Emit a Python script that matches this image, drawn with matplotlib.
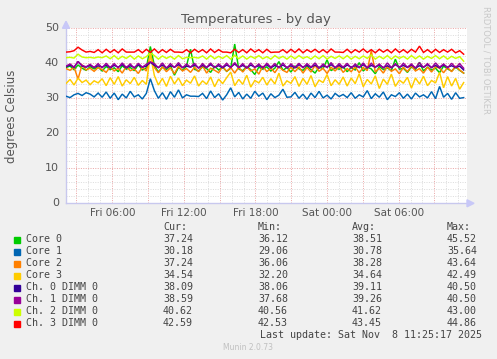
import numpy as np
import matplotlib
matplotlib.use("Agg")
import matplotlib.pyplot as plt
from matplotlib.ticker import MultipleLocator, FixedLocator

# ---------------- data ----------------
t_start, t_end = 2.12, 35.45          # hours since Fri 00:00
n_samples = 100

series_names = ["Core 0", "Core 1", "Core 2", "Core 3",
                "Ch. 0 DIMM 0", "Ch. 1 DIMM 0", "Ch. 2 DIMM 0", "Ch. 3 DIMM 0"]
series_colors = ["#00CC00", "#0066B3", "#FF8000", "#FFCC00",
                 "#330099", "#990099", "#CCFF00", "#FF0000"]

core0 = [38.8, 39.2, 38.2, 39.5, 38.6, 38.0, 39.0, 38.4, 38.9, 37.8,
         39.1, 38.2, 38.7, 37.6, 39.3, 38.3, 38.8, 37.9, 39.6, 38.1,
         38.7, 44.8, 39.4, 37.5, 38.9, 38.2, 39.3, 36.6, 38.8, 38.0,
         39.2, 44.0, 38.3, 37.8, 39.0, 38.5, 37.4, 39.2, 38.1, 38.9,
         37.7, 38.6, 45.5, 38.4, 37.9, 39.1, 38.2, 36.8, 38.9, 38.3,
         39.0, 37.8, 38.6, 40.5, 38.0, 38.8, 37.5, 39.2, 38.4, 38.0,
         39.1, 38.2, 37.2, 38.9, 38.5, 41.0, 37.9, 38.7, 38.3, 39.0,
         37.6, 38.8, 38.1, 40.2, 37.8, 38.9, 38.4, 37.0, 39.1, 38.2,
         38.7, 37.9, 41.2, 38.3, 38.6, 37.4, 39.0, 38.2, 40.3, 37.8,
         38.9, 38.1, 38.6, 37.3, 39.2, 38.4, 37.8, 38.9, 38.0, 37.2]

core1 = [30.6, 30.2, 31.0, 31.4, 30.8, 31.6, 31.2, 30.4, 31.5, 30.3,
         31.8, 30.0, 31.5, 29.6, 31.2, 30.1, 32.0, 30.4, 31.0, 29.8,
         31.4, 35.6, 32.2, 30.0, 31.6, 29.7, 31.9, 30.3, 32.4, 30.1,
         31.0, 30.6, 30.6, 30.5, 31.4, 29.9, 32.1, 30.2, 31.3, 29.5,
         31.0, 33.0, 30.4, 31.7, 29.8, 31.2, 30.0, 32.0, 30.6, 31.5,
         29.6, 31.3, 30.2, 30.9, 32.6, 30.3, 30.4, 31.7, 30.0, 31.2,
         29.7, 31.5, 30.2, 32.0, 30.1, 30.9, 29.8, 31.4, 30.5, 31.1,
         30.2, 31.6, 30.0, 31.0, 30.4, 32.2, 29.9, 31.3, 30.3, 31.8,
         29.6, 31.0, 30.5, 31.6, 30.0, 31.2, 29.8, 31.5, 30.4, 31.0,
         30.1, 31.9, 29.9, 33.4, 30.3, 31.4, 29.7, 31.6, 30.0, 30.2]

core2 = [38.5, 38.0, 38.9, 35.5, 39.6, 38.1, 38.6, 37.7, 38.8, 38.2,
         37.4, 39.0, 37.8, 38.6, 37.2, 39.1, 37.9, 38.4, 37.1, 38.9,
         37.8, 42.5, 38.8, 37.3, 39.0, 37.6, 38.7, 37.0, 39.2, 37.8,
         38.5, 37.4, 38.9, 37.6, 39.3, 37.2, 38.6, 38.0, 37.3, 39.1,
         37.7, 38.8, 37.2, 38.9, 37.5, 39.0, 37.8, 38.4, 36.9, 39.2,
         37.6, 38.7, 37.3, 39.1, 38.0, 37.4, 38.9, 37.6, 39.0, 37.2,
         38.8, 37.5, 39.4, 37.7, 38.6, 37.1, 38.9, 37.8, 39.2, 37.4,
         38.5, 37.6, 39.0, 37.3, 38.8, 37.9, 43.6, 37.5, 38.6, 37.2,
         39.1, 37.7, 38.4, 37.0, 38.9, 37.6, 39.3, 37.8, 38.5, 37.2,
         38.9, 37.5, 39.0, 38.6, 37.3, 38.8, 37.6, 39.2, 38.1, 37.2]

core3 = [34.2, 35.4, 33.8, 35.8, 34.5, 35.2, 33.9, 35.0, 34.4, 35.6,
         33.6, 35.9, 34.0, 36.2, 33.5, 35.3, 34.2, 36.0, 33.7, 35.1,
         34.0, 42.5, 36.5, 33.8, 35.7, 33.4, 36.3, 34.1, 35.8, 33.6,
         35.2, 34.3, 36.4, 33.5, 35.0, 34.0, 36.1, 33.3, 35.5, 34.2,
         35.9, 37.5, 33.6, 35.4, 34.0, 36.6, 33.2, 35.1, 34.4, 36.0,
         33.8, 35.6, 34.1, 37.2, 33.5, 35.0, 34.3, 36.2, 33.4, 35.7,
         34.0, 36.5, 33.3, 35.2, 34.5, 36.8, 33.6, 35.3, 34.0, 36.1,
         33.5, 35.8, 34.2, 37.0, 33.3, 35.4, 34.1, 36.4, 32.8, 35.5,
         34.0, 36.9, 33.4, 35.2, 34.3, 36.0, 32.9, 35.8, 34.1, 36.3,
         33.6, 35.1, 34.4, 37.4, 33.0, 36.2, 33.5, 35.7, 32.6, 34.5]

ch0 = [39.0, 39.5, 38.8, 40.5, 39.2, 38.9, 39.4, 38.8, 39.3, 38.9,
       39.5, 38.7, 39.4, 38.9, 39.6, 38.7, 39.3, 38.8, 39.5, 38.9,
       39.2, 40.3, 39.4, 38.8, 39.5, 38.7, 39.3, 38.9, 39.6, 38.8,
       39.2, 38.9, 39.5, 38.7, 39.4, 38.8, 39.6, 38.9, 39.3, 38.7,
       39.5, 38.9, 39.8, 38.8, 39.4, 38.7, 39.5, 38.9, 39.3, 38.8,
       39.6, 38.7, 39.4, 38.9, 39.5, 38.8, 39.3, 38.7, 39.6, 38.9,
       39.4, 38.8, 39.5, 38.7, 39.3, 38.9, 39.6, 38.8, 39.4, 38.7,
       39.5, 38.9, 39.3, 38.8, 39.6, 38.7, 39.4, 38.9, 39.5, 38.8,
       39.3, 38.7, 39.6, 38.9, 39.4, 38.8, 39.5, 38.7, 39.3, 38.9,
       39.6, 38.8, 39.4, 38.7, 39.5, 38.9, 39.3, 38.8, 39.2, 38.1]

ch1 = [39.2, 39.8, 38.9, 40.5, 39.4, 39.0, 39.7, 38.8, 39.9, 38.7,
       40.0, 38.8, 39.9, 38.7, 40.1, 38.8, 39.8, 38.6, 40.0, 38.9,
       39.7, 40.4, 39.9, 38.7, 40.1, 38.6, 39.9, 38.8, 40.2, 38.7,
       39.8, 38.9, 40.0, 38.6, 39.9, 38.8, 40.1, 38.7, 39.8, 38.9,
       40.0, 38.7, 40.2, 38.8, 39.9, 38.6, 40.1, 38.8, 39.8, 38.7,
       40.0, 38.9, 39.9, 38.7, 40.1, 38.6, 39.8, 38.8, 40.0, 38.7,
       39.9, 38.9, 40.1, 38.6, 39.8, 38.8, 40.2, 38.7, 39.9, 38.9,
       40.0, 38.6, 39.8, 38.8, 40.1, 38.7, 40.0, 38.9, 39.8, 38.6,
       40.1, 38.8, 39.9, 38.7, 40.0, 38.9, 39.8, 38.6, 40.2, 38.8,
       39.9, 38.7, 40.1, 38.9, 39.8, 38.7, 40.0, 38.8, 39.9, 38.6]

ch2 = [41.6, 41.7, 41.5, 42.6, 41.8, 41.6, 41.7, 41.5, 41.8, 41.6,
       42.1, 41.3, 42.2, 41.2, 42.0, 41.4, 42.2, 41.2, 42.1, 41.3,
       41.9, 43.0, 42.2, 41.2, 42.1, 41.4, 42.0, 41.2, 42.2, 41.3,
       41.7, 41.6, 41.7, 41.5, 42.1, 41.2, 42.2, 41.3, 42.0, 41.4,
       42.2, 41.2, 42.3, 41.3, 42.1, 41.2, 42.0, 41.4, 42.2, 41.3,
       41.9, 41.2, 42.2, 41.4, 42.0, 41.2, 42.1, 41.3, 42.2, 41.4,
       41.9, 41.2, 42.1, 41.3, 42.2, 41.2, 42.0, 41.4, 42.1, 41.3,
       42.2, 41.2, 42.0, 41.3, 42.1, 41.4, 42.4, 41.2, 42.0, 41.3,
       42.2, 41.2, 42.1, 41.4, 42.0, 41.2, 42.2, 41.3, 42.1, 41.2,
       42.0, 41.4, 42.2, 41.3, 42.1, 41.2, 42.0, 41.4, 41.9, 40.6]

ch3 = [43.2, 43.3, 43.6, 44.6, 43.8, 43.2, 43.4, 43.1, 43.9, 43.0,
       44.0, 43.1, 43.9, 43.0, 44.1, 43.2, 43.2, 43.2, 43.9, 43.0,
       44.0, 43.1, 44.1, 43.0, 43.9, 43.1, 44.0, 43.2, 43.2, 43.1,
       43.9, 43.0, 44.0, 43.2, 43.9, 43.0, 44.1, 43.1, 43.9, 43.2,
       43.2, 43.0, 44.0, 43.1, 43.9, 43.0, 44.1, 43.2, 43.9, 43.0,
       44.0, 43.1, 43.2, 43.2, 43.9, 43.0, 44.0, 43.1, 44.1, 43.0,
       43.9, 43.2, 44.0, 43.1, 43.9, 43.0, 44.1, 43.2, 43.2, 43.1,
       44.0, 43.0, 43.9, 43.2, 44.1, 43.1, 43.9, 43.0, 44.0, 43.2,
       43.9, 43.0, 44.1, 43.1, 43.9, 43.0, 44.0, 43.2, 44.9, 43.1,
       43.9, 43.0, 44.0, 43.1, 43.9, 43.2, 44.0, 43.0, 43.6, 42.6]

series_values = [core0, core1, core2, core3, ch0, ch1, ch2, ch3]

stat_cur = ["37.24", "30.18", "37.24", "34.54", "38.09", "38.59", "40.62", "42.59"]
stat_min = ["36.12", "29.06", "36.06", "32.20", "38.06", "37.68", "40.56", "42.53"]
stat_avg = ["38.51", "30.78", "38.28", "34.64", "39.11", "39.26", "41.62", "43.45"]
stat_max = ["45.52", "35.64", "43.64", "42.49", "40.50", "40.50", "43.00", "44.86"]

x_tick_pos = [6, 12, 18, 24, 30]
x_tick_labels = ["Fri 06:00", "Fri 12:00", "Fri 18:00", "Sat 00:00", "Sat 06:00"]
y_ticks = [0, 10, 20, 30, 40, 50]

title = "Temperatures - by day"
ylabel = "degrees Celsius"
last_update = "Last update: Sat Nov  8 11:25:17 2025"

# ---------------- figure ----------------
W, H = 497, 359
fig = plt.figure(figsize=(W / 100, H / 100), dpi=100, facecolor="#F0F0F0")

def px_x(p):
    return p / W

def px_y(p):
    return 1 - p / H

x0, x1, y0, y1 = 66, 467, 28.3, 203.3
ax = fig.add_axes([px_x(x0), px_y(y1), px_x(x1) - px_x(x0), px_y(y0) - px_y(y1)])
ax.set_facecolor("white")

times = np.linspace(t_start, t_end, n_samples)
for vals, col in zip(series_values, series_colors):
    ax.plot(times, vals, color=col, lw=1.05, solid_joinstyle="miter", zorder=3)

ax.set_xlim(2.12, 35.73)
ax.set_ylim(0, 50)

ax.xaxis.set_major_locator(FixedLocator(np.arange(3, 36, 3)))
ax.xaxis.set_minor_locator(MultipleLocator(1))
ax.yaxis.set_major_locator(FixedLocator(y_ticks))
ax.yaxis.set_minor_locator(MultipleLocator(2))

ax.grid(which="minor", color="#DDDDDD", linestyle=(0, (1, 1.4)), lw=0.72, zorder=1)
ax.grid(which="major", color="#EBA8A8", linestyle=(0, (1, 1.4)), lw=0.72, zorder=2)
ax.tick_params(which="both", length=0, labelbottom=False, labelleft=False)

for s in ["top", "right"]:
    ax.spines[s].set_visible(False)
for s in ["left", "bottom"]:
    ax.spines[s].set_color("#C8C8EE")
    ax.spines[s].set_linewidth(1.0)

# axis arrows
fig.patches.append(matplotlib.patches.Polygon(
    [[px_x(x1), px_y(y1 - 3.5)], [px_x(x1), px_y(y1 + 3.5)], [px_x(x1 + 7), px_y(y1)]],
    closed=True, transform=fig.transFigure, color="#C8C8F8", zorder=5))
fig.patches.append(matplotlib.patches.Polygon(
    [[px_x(x0 - 3.5), px_y(y0)], [px_x(x0 + 3.5), px_y(y0)], [px_x(x0), px_y(y0 - 7)]],
    closed=True, transform=fig.transFigure, color="#C8C8F8", zorder=5))

# tick labels as text
txt_col = "#555555"
for v in y_ticks:
    yp = y1 - (y1 - y0) * v / 50
    fig.text(px_x(59), px_y(yp), str(v), ha="right", va="center",
             fontsize=8, color=txt_col)
for pos, lab in zip(x_tick_pos, x_tick_labels):
    xp = x0 + (x1 - x0) * (pos - 2.12) / (35.73 - 2.12)
    fig.text(px_x(xp), px_y(213), lab, ha="center", va="center",
             fontsize=7.5, color=txt_col)

fig.text(px_x(256), px_y(19), title, ha="center", va="center",
         fontsize=9.5, color=txt_col)
fig.text(px_x(12), px_y(116), ylabel, ha="center", va="center",
         rotation=90, fontsize=8.5, color=txt_col)
fig.text(px_x(486), px_y(60), "RRDTOOL / TOBI OETIKER", ha="center", va="center",
         rotation=270, fontsize=6, color="#C8C8C8")

# legend table
mono = "DejaVu Sans Mono"
fs = 7.2
leg_col = "#444444"
col_x = [163, 258, 352, 447]
for cx, hdr in zip(col_x, ["Cur:", "Min:", "Avg:", "Max:"]):
    fig.text(px_x(cx), px_y(227), hdr, fontsize=fs, family=mono, color=leg_col, va="center")
for i, name in enumerate(series_names):
    yp = 239.5 + 12 * i
    fig.patches.append(matplotlib.patches.Rectangle(
        (px_x(14), px_y(yp + 3)), 6 / W, 6 / H, transform=fig.transFigure,
        color=series_colors[i]))
    fig.text(px_x(26), px_y(yp), name, fontsize=fs, family=mono, color=leg_col, va="center")
    for cx, vals in zip(col_x, [stat_cur, stat_min, stat_avg, stat_max]):
        fig.text(px_x(cx), px_y(yp), vals[i], fontsize=fs, family=mono,
                 color=leg_col, va="center")
fig.text(px_x(482), px_y(335.5), last_update, fontsize=fs, family=mono,
         color=leg_col, va="center", ha="right")
fig.text(px_x(248), px_y(348), "Munin 2.0.73", fontsize=5.5, color="#C0C0C0",
         va="center", ha="center")

fig.savefig("out.png", dpi=100, facecolor=fig.get_facecolor())
